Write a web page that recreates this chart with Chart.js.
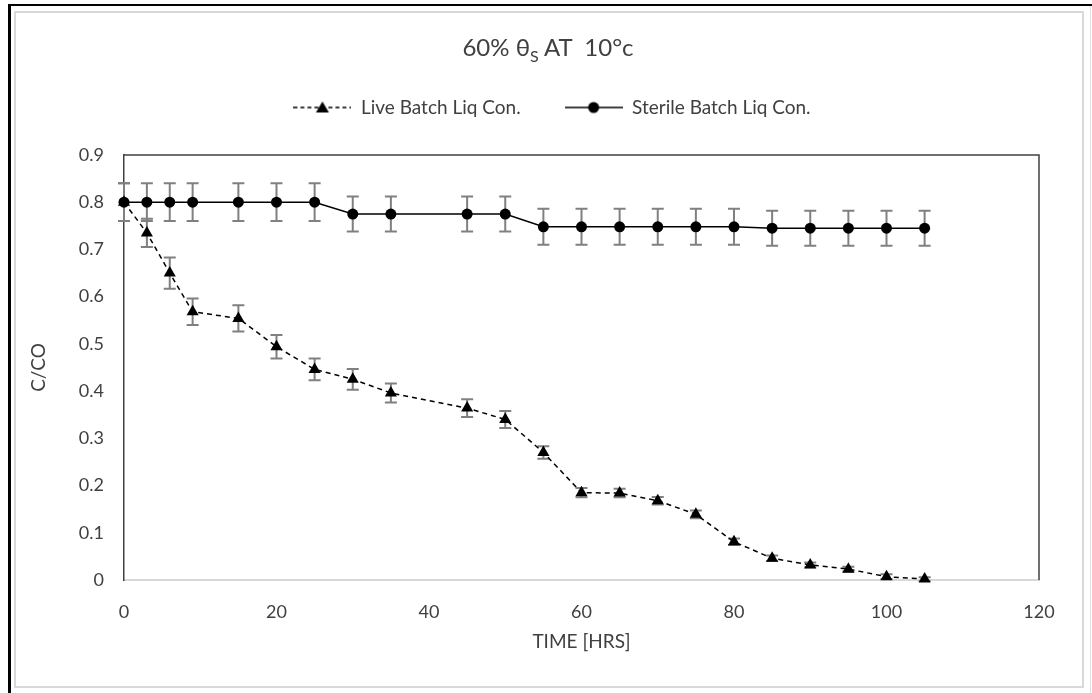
<!DOCTYPE html>
<html>
<head>
<meta charset="utf-8">
<script src="https://cdn.jsdelivr.net/npm/chart.js@4.4.0/dist/chart.umd.min.js"></script>
<style>
body { margin: 0; background: #fff; }
#wrap { position: relative; width: 1092px; height: 693px; overflow: hidden; font-family: Lato, sans-serif; }
#outer { position: absolute; left: 8px; top: 4px; right: 0; bottom: 0; border-left: 3px solid #000; border-top: 2px solid #000; }
#inner { position: absolute; left: 14px; top: 11px; width: 1066px; height: 673px; border: 2px solid #d9d9d9; }
#edge { position: absolute; left: 1090px; top: 6px; width: 1px; height: 687px; background: #e3e3e3; }
#title { position: absolute; left: 0; top: 32px; width: 1096px; text-align: center; font-size: 24px; color: #404040; z-index: 2; }
#title sub { font-size: 16px; }
canvas { position: absolute; left: 0; top: 0; z-index: 1; }
</style>
</head>
<body>
<div id="wrap">
  <div id="outer"></div>
  <div id="inner"></div>
  <div id="edge"></div>
  <div id="title">60% θ<sub>S</sub> AT&nbsp; 10°c</div>
  <canvas id="chart" width="1092" height="693"></canvas>
</div>
<script>
// time in hours
var hours = [0, 3, 6, 9, 15, 20, 25, 30, 35, 45, 50, 55, 60, 65, 70, 75, 80, 85, 90, 95, 100, 105];

// C/CO for the live batch and its error
var liveConc = [0.80, 0.735, 0.65, 0.568, 0.554, 0.494, 0.446, 0.425, 0.396, 0.364, 0.340, 0.270,
                0.185, 0.184, 0.168, 0.139, 0.081, 0.046, 0.032, 0.023, 0.007, 0.002];
var liveErr = [0.04, 0.03, 0.033, 0.028, 0.028, 0.025, 0.023, 0.022, 0.02, 0.019, 0.018, 0.013,
               0.01, 0.009, 0.008, 0.008, 0.007, 0.006, 0.005, 0.005, 0.005, 0.004];

// C/CO for the sterile batch and its error
var sterileConc = [0.80, 0.80, 0.80, 0.80, 0.80, 0.80, 0.80, 0.775, 0.775, 0.775, 0.775, 0.748,
                   0.748, 0.748, 0.748, 0.748, 0.748, 0.745, 0.745, 0.745, 0.745, 0.745];
var sterileErr = [0.04, 0.04, 0.04, 0.04, 0.04, 0.04, 0.04, 0.037, 0.037, 0.037, 0.037, 0.038,
                  0.038, 0.038, 0.038, 0.038, 0.038, 0.037, 0.037, 0.037, 0.037, 0.037];

var seriesNames = ['Live Batch Liq Con.', 'Sterile Batch Liq Con.'];

var textColor = '#404040';

function toPoints(ys) {
    return hours.map(function(h, i) { return { x: h, y: ys[i] }; });
}

// small line + marker picture used in the legend
function legendIcon(style) {
    var c = document.createElement('canvas');
    c.width = 58; c.height = 16;
    var g = c.getContext('2d');
    g.strokeStyle = '#000';
    g.lineWidth = 1.5;
    if (style === 'triangle') g.setLineDash([4, 3]);
    g.beginPath(); g.moveTo(0, 8); g.lineTo(58, 8); g.stroke();
    g.setLineDash([]);
    g.fillStyle = '#000';
    g.beginPath();
    if (style === 'triangle') {
        g.moveTo(29, 2); g.lineTo(35.5, 13); g.lineTo(22.5, 13); g.closePath();
    } else {
        g.arc(29, 8, 5.5, 0, Math.PI * 2);
    }
    g.fill();
    return c;
}

var errorBars = {
    id: 'errorBars',
    beforeDatasetsDraw: function(chart) {
        var ctx = chart.ctx;
        var yScale = chart.scales.y;
        ctx.save();
        ctx.strokeStyle = '#808080';
        ctx.lineWidth = 2;
        chart.data.datasets.forEach(function(ds, i) {
            var meta = chart.getDatasetMeta(i);
            meta.data.forEach(function(pt, j) {
                var v = ds.data[j].y, e = ds.errors[j];
                var top = yScale.getPixelForValue(v + e);
                var bot = yScale.getPixelForValue(v - e);
                ctx.beginPath();
                ctx.moveTo(pt.x, top); ctx.lineTo(pt.x, bot);
                ctx.moveTo(pt.x - 6, top); ctx.lineTo(pt.x + 6, top);
                ctx.moveTo(pt.x - 6, bot); ctx.lineTo(pt.x + 6, bot);
                ctx.stroke();
            });
        });
        ctx.restore();
    }
};

// top and right edges of the plot box
var plotBox = {
    id: 'plotBox',
    afterDraw: function(chart) {
        var a = chart.chartArea, ctx = chart.ctx;
        ctx.save();
        ctx.strokeStyle = '#404040';
        ctx.lineWidth = 1.5;
        ctx.beginPath();
        ctx.moveTo(a.left, a.top); ctx.lineTo(a.right, a.top); ctx.lineTo(a.right, a.bottom);
        ctx.stroke();
        ctx.restore();
    }
};

var legendHeight = {
    id: 'legendHeight',
    beforeInit: function(chart) {
        var fit = chart.legend.fit;
        chart.legend.fit = function() { fit.call(this); this.height = 101; };
    }
};

var ctx = document.getElementById('chart').getContext('2d');
var myChart = new Chart(ctx, {
    type: 'line',
    data: {
        datasets: [{
            label: seriesNames[0],
            data: toPoints(liveConc),
            errors: liveErr,
            borderColor: '#000',
            borderWidth: 1.5,
            borderDash: [5, 4],
            pointStyle: 'triangle',
            pointRadius: 7,
            pointBackgroundColor: '#000',
            pointBorderColor: '#000',
            pointBorderWidth: 0,
            clip: false
        }, {
            label: seriesNames[1],
            data: toPoints(sterileConc),
            errors: sterileErr,
            borderColor: '#000',
            borderWidth: 1.5,
            pointStyle: 'circle',
            pointRadius: 5.5,
            pointBackgroundColor: '#000',
            pointBorderColor: '#000',
            pointBorderWidth: 0,
            clip: false
        }]
    },
    options: {
        responsive: false,
        animation: false,
        layout: { padding: { left: 65, right: 53, top: 54, bottom: 30 } },
        scales: {
            x: {
                type: 'linear',
                min: 0, max: 120,
                ticks: { stepSize: 20, padding: 21, color: textColor, font: { family: 'Lato', size: 18 } },
                grid: { display: false, drawTicks: false },
                border: { display: true, color: '#d9d9d9', width: 2 },
                title: { display: true, text: 'TIME [HRS]', color: textColor, font: { family: 'Lato', size: 19 }, padding: { bottom: 10 } },
                afterFit: function(scale) { scale.height = 83; }
            },
            y: {
                min: 0, max: 0.9,
                ticks: { stepSize: 0.1, padding: 20, color: textColor, font: { family: 'Lato', size: 18 } },
                grid: { display: false, drawTicks: false },
                border: { display: true, color: '#404040', width: 1.5 },
                title: { display: true, text: 'C/CO', color: textColor, font: { family: 'Lato', size: 19 }, padding: { top: -38 } },
                afterFit: function(scale) { scale.width = 59; }
            }
        },
        plugins: {
            title: { display: false },
            tooltip: { enabled: false },
            legend: {
                position: 'top',
                labels: {
                    usePointStyle: true,
                    pointStyleWidth: 58,
                    padding: 44,
                    color: textColor,
                    font: { family: 'Lato', size: 19 },
                    generateLabels: function(chart) {
                        var items = Chart.defaults.plugins.legend.labels.generateLabels(chart);
                        items.forEach(function(it) {
                            it.pointStyle = legendIcon(chart.data.datasets[it.datasetIndex].pointStyle);
                        });
                        return items;
                    }
                }
            }
        }
    },
    plugins: [errorBars, plotBox, legendHeight]
});
</script>
</body>
</html>
